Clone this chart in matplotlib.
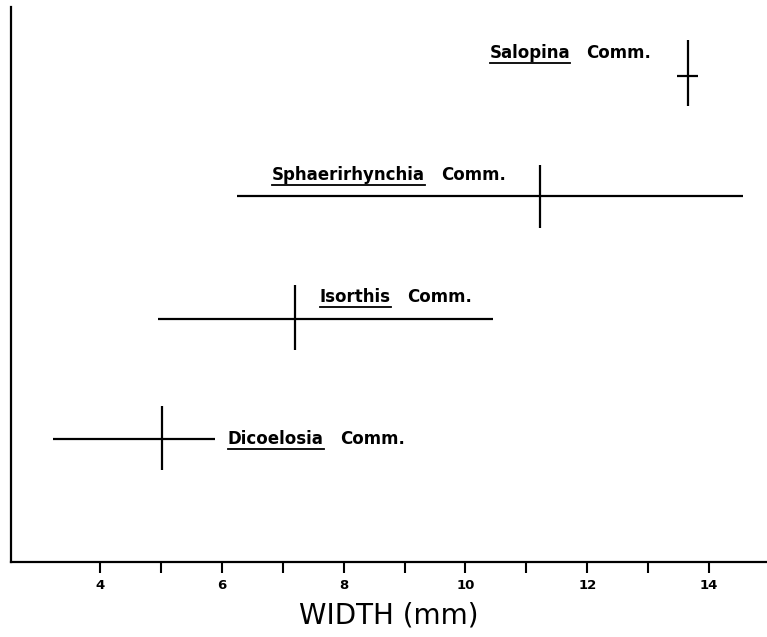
import matplotlib
matplotlib.use("Agg")
import matplotlib.pyplot as plt

# brachiopod communities: width range (mm) and mean
communities = ["Dicoelosia", "Isorthis", "Sphaerirhynchia", "Salopina"]
width_min = [3.23, 4.95, 6.25, 13.47]
width_max = [5.89, 10.45, 14.56, 13.82]
width_mean = [5.02, 7.20, 11.22, 13.66]
# vertical placement of each cross (arbitrary units, 0-100)
level = [22.2, 43.8, 65.9, 87.6]
bar_low = [16.6, 38.2, 60.2, 82.2]
bar_high = [28.1, 49.9, 71.5, 94.1]
ticks_major = [4, 6, 8, 10, 12, 14]
ticks_minor = [5, 7, 9, 11, 13]

fig = plt.figure(figsize=(7.67, 6.37), dpi=100)
ax = fig.add_axes([11 / 767, 75 / 637, 756 / 767, 555 / 637])

for i in range(len(communities)):
    ax.plot([width_min[i], width_max[i]], [level[i], level[i]], color="black", lw=1.6,
            solid_capstyle="butt")
    ax.plot([width_mean[i], width_mean[i]], [bar_low[i], bar_high[i]], color="black", lw=1.6,
            solid_capstyle="butt")

ax.set_xlim(2.54, 14.95)
ax.set_ylim(0, 100)
ax.spines["top"].set_visible(False)
ax.spines["right"].set_visible(False)
ax.spines["left"].set_linewidth(1.6)
ax.spines["bottom"].set_linewidth(1.6)
ax.set_yticks([])
ax.set_xticks(ticks_major)
ax.set_xticks(ticks_minor, minor=True)
ax.tick_params(axis="x", which="both", direction="out", length=8, width=1.5, pad=4)
ax.set_xticklabels([str(t) for t in ticks_major], fontsize=9.5, fontweight="bold")
ax.set_xlabel("WIDTH (mm)", fontsize=20, labelpad=7)

# labels: genus name underlined, followed by "Comm."
label_x = [6.10, 7.61, 6.82, 10.40]
label_y = [21.3, 46.8, 68.8, 90.8]
fig.canvas.draw()
r = fig.canvas.get_renderer()
inv = ax.transData.inverted()
for i, name in enumerate(communities):
    t = ax.text(label_x[i], label_y[i], name, fontsize=12, fontweight="bold",
                ha="left", va="baseline")
    bb = t.get_window_extent(renderer=r)
    x0, _ = inv.transform((bb.x0, bb.y0))
    x1, _ = inv.transform((bb.x1, bb.y0))
    _, yu = inv.transform((bb.x0, ax.transData.transform((0, label_y[i]))[1] - 5))
    ax.plot([x0, x1], [yu, yu], color="black", lw=1.3)
    gap_px = 16
    xc, _ = inv.transform((bb.x1 + gap_px, bb.y0))
    ax.text(xc, label_y[i], "Comm.", fontsize=12, fontweight="bold",
            ha="left", va="baseline")

fig.savefig("out.png", dpi=100)
